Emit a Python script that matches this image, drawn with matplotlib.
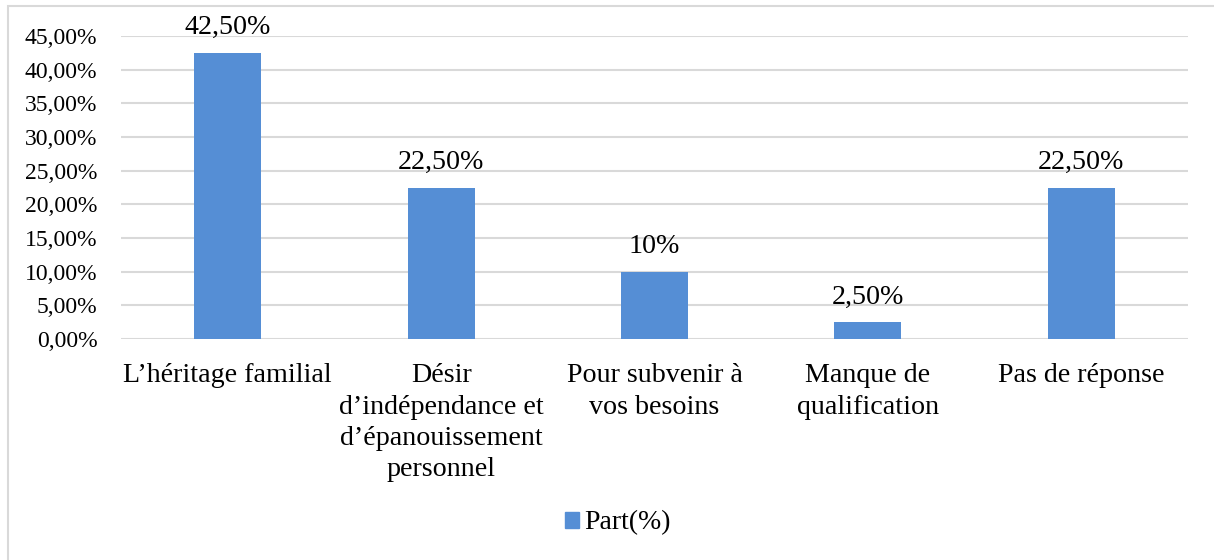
import matplotlib
matplotlib.use("Agg")
import matplotlib.pyplot as plt
from matplotlib.patches import Rectangle, Patch
from matplotlib.ticker import FuncFormatter

categories = ["L\u2019héritage familial",
              "Désir\nd\u2019indépendance et\nd\u2019épanouissement\npersonnel",
              "Pour subvenir à\nvos besoins",
              "Manque de\nqualification",
              "Pas de réponse"]
values = [42.5, 22.5, 10.0, 2.5, 22.5]
value_labels = ["42,50%", "22,50%", "10%", "2,50%", "22,50%"]
yticks = [0, 5, 10, 15, 20, 25, 30, 35, 40, 45]
series_name = "Part(%)"

plt.rcParams['font.family'] = ['Liberation Serif', 'DejaVu Serif']
W, H = 1214, 560
fig = plt.figure(figsize=(W/100, H/100), dpi=100)
fig.add_artist(Rectangle((8/W, -0.1), 1.1, (H-6)/H + 0.1, transform=fig.transFigure,
                         fill=False, edgecolor='#D9D9D9', linewidth=1.5))
ax = fig.add_axes([121/W, 1-339/H, (1188-121)/W, (339-36)/H])
color = '#558ED5'
x = list(range(len(categories)))
bars = ax.bar(x, values, width=0.314, color=color, zorder=3)
ax.set_xlim(-0.5, len(categories)-0.5)
ax.set_ylim(0, 45)
ax.set_yticks(yticks)
ax.yaxis.set_major_formatter(FuncFormatter(lambda v, p: f"{v:.2f}%".replace('.', ',')))
ax.grid(axis='y', color='#D9D9D9', linewidth=1.5, zorder=0)
for s in ax.spines.values():
    s.set_visible(False)
ax.tick_params(axis='both', length=0)
ax.tick_params(axis='y', pad=17, labelsize=17)
ax.tick_params(axis='x', pad=17.5)
ax.set_xticks(x)
ax.set_xticklabels(categories, fontsize=20.2, linespacing=1.33, va='top')
for xi, v, lab in zip(x, values, value_labels):
    ax.annotate(lab, (xi, v), xytext=(0, 9), textcoords='offset points',
                ha='center', va='bottom', fontsize=20.2)
leg = fig.legend(handles=[Patch(color=color, label=series_name)], loc='center',
                 bbox_to_anchor=(618/W, 1-523/H), frameon=False, fontsize=20,
                 handlelength=0.5, handleheight=0.5, handletextpad=0.2)
fig.savefig("out.png", dpi=100)
